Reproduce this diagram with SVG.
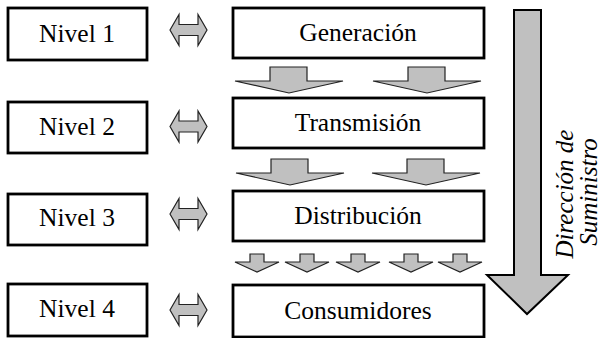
<svg xmlns="http://www.w3.org/2000/svg" width="602" height="338" viewBox="0 0 602 338">
<style>
.box{fill:#fff;stroke:#000;stroke-width:2.8}
.lbl{font-family:"Liberation Serif",serif;font-size:25.5px;fill:#000;text-anchor:middle}
.it{font-family:"Liberation Serif",serif;font-size:25px;font-style:italic;fill:#000;text-anchor:middle}
.ar{fill:#c0c0c0;stroke:#222;stroke-width:1.2;stroke-linejoin:miter}
.big{fill:#c0c0c0;stroke:#000;stroke-width:2}
</style>
<defs>
<polygon id="dbl" class="ar" points="170,0 179,-15.5 179,-5.5 198,-5.5 198,-15.5 207,0 198,15.5 198,5.5 179,5.5 179,15.5"/>
<polygon id="down" class="ar" points="-19,0 18,0 18,14 54,14 0,26 -54,14 -19,14"/>
<polygon id="small" class="ar" points="-7,0 7,0 7,8 22,8 0,18 -22,8 -7,8"/>
</defs>
<rect width="602" height="338" fill="#fff"/>
<g id="nivel1"><rect class="box" x="8" y="8" width="139" height="52"/><text class="lbl" x="77" y="42">Nivel 1</text></g>
<g id="nivel2"><rect class="box" x="8" y="102" width="139" height="51"/><text class="lbl" x="77" y="135">Nivel 2</text></g>
<g id="nivel3"><rect class="box" x="8" y="194" width="139" height="51"/><text class="lbl" x="77" y="226">Nivel 3</text></g>
<g id="nivel4"><rect class="box" x="8" y="284" width="139" height="52"/><text class="lbl" x="77" y="317">Nivel 4</text></g>
<g id="generacion"><rect class="box" x="233" y="8" width="251" height="50"/><text class="lbl" x="358" y="41">Generación</text></g>
<g id="transmision"><rect class="box" x="233" y="98" width="251" height="50"/><text class="lbl" x="358" y="131">Transmisión</text></g>
<g id="distribucion"><rect class="box" x="233" y="191" width="251" height="50"/><text class="lbl" x="358" y="224">Distribución</text></g>
<g id="consumidores"><rect class="box" x="233" y="285" width="251" height="52"/><text class="lbl" x="358" y="319">Consumidores</text></g>
<g id="connectors">
<use href="#dbl" transform="translate(0,30)"/>
<use href="#dbl" transform="translate(0,126.5)"/>
<use href="#dbl" transform="translate(0,214)"/>
<use href="#dbl" transform="translate(0,310)"/>
<use href="#down" transform="translate(289,67)"/>
<use href="#down" transform="translate(427,67)"/>
<use href="#down" transform="translate(290,159)"/>
<use href="#down" transform="translate(426,159)"/>
<use href="#small" transform="translate(257,254)"/>
<use href="#small" transform="translate(307,254)"/>
<use href="#small" transform="translate(358,254)"/>
<use href="#small" transform="translate(411,254)"/>
<use href="#small" transform="translate(460,254)"/>
<polygon class="big" points="514,10 541,10 541,275 568,275 527,314 487,275 514,275"/>
</g>
<g id="direccion">
<text class="it" transform="translate(573,194) rotate(-90)">Dirección de</text>
<text class="it" transform="translate(597,192) rotate(-90)">Suministro</text>
</g>
</svg>
